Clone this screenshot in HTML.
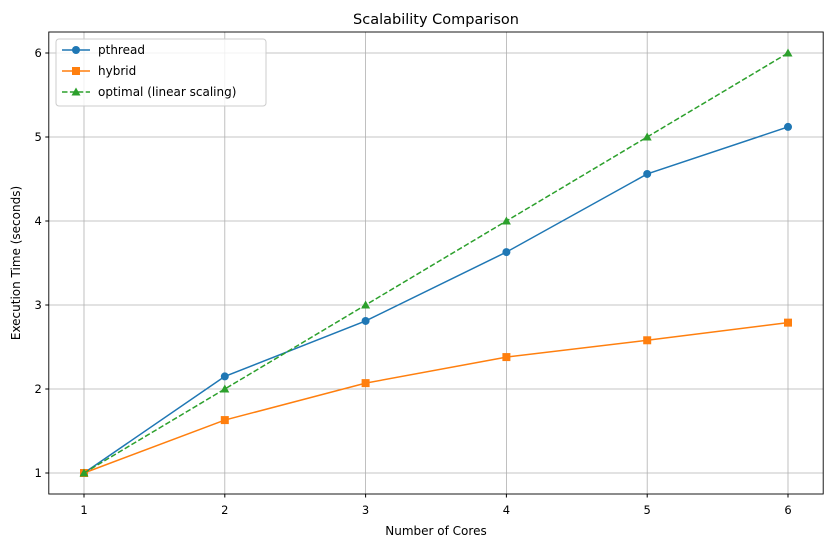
<!DOCTYPE html>
<html><head><meta charset="utf-8"><style>
body{margin:0;background:#fff;font-family:"Liberation Sans","DejaVu Sans",sans-serif}
svg text{font-family:"DejaVu Sans","Liberation Sans",sans-serif}
</style></head><body>
<svg id="chart" width="833" height="547" xmlns="http://www.w3.org/2000/svg">
<rect width="833" height="547" fill="#fff"/>
<g id="grid"></g>
<g id="series"></g>
<rect x="48.8" y="32" width="774.4" height="462" fill="none" stroke="#000" stroke-width="0.9"/>
<g id="ticks"></g>
<text x="436" y="24" text-anchor="middle" font-size="14.5">Scalability Comparison</text>
<text x="436" y="535" text-anchor="middle" font-size="12">Number of Cores</text>
<text transform="translate(20,263) rotate(-90)" text-anchor="middle" font-size="12">Execution Time (seconds)</text>
<g id="legend">
<rect x="56" y="39" width="210" height="67" fill="#fff" fill-opacity="0.8" stroke="#ccc" rx="3"/>
</g>
</svg>
<script>
const cores=[1,2,3,4,5,6];
const pthread=[1,2.15,2.81,3.63,4.56,5.12];
const hybrid=[1,1.63,2.07,2.38,2.58,2.79];
const optimal=[1,2,3,4,5,6];
const xTicks=[1,2,3,4,5,6];
const yTicks=[1,2,3,4,5,6];
const names=["pthread","hybrid","optimal (linear scaling)"];
const NS="http://www.w3.org/2000/svg";
const L=48.8,R=823.2,T=32,B=494,xmin=0.75,xmax=6.25,ymin=0.75,ymax=6.25;
const X=v=>L+(v-xmin)/(xmax-xmin)*(R-L);
const Y=v=>B-(v-ymin)/(ymax-ymin)*(B-T);
function mk(tag,attrs,parent){const e=document.createElementNS(NS,tag);for(const k in attrs)e.setAttribute(k,attrs[k]);document.getElementById(parent).appendChild(e);return e;}
xTicks.forEach(t=>{
 let g=mk('line',{x1:X(t),x2:X(t),y1:T,y2:B,stroke:'#b0b0b0','stroke-width':0.8},'grid');
 
 
 mk('line',{x1:X(t),x2:X(t),y1:B,y2:B+3.5,stroke:'#000'},'ticks');
 let tx=mk('text',{x:X(t),y:B+20,'text-anchor':'middle','font-size':11.5},'ticks');tx.textContent=t;
 
 
});
yTicks.forEach(t=>{
 let g=mk('line',{x1:L,x2:R,y1:Y(t),y2:Y(t),stroke:'#b0b0b0','stroke-width':0.8},'grid');
 
 
 mk('line',{x1:L-3.5,x2:L,y1:Y(t),y2:Y(t),stroke:'#000'},'ticks');
 let tx=mk('text',{x:L-7,y:Y(t)+4,'text-anchor':'end','font-size':11.5},'ticks');tx.textContent=t;
 
 
});
function marker(x,y,type,color,parent){
 let m;
 if(type==='o')m=mk('circle',{cx:x,cy:y,r:4,fill:color},parent);
 else if(type==='s')m=mk('rect',{x:x-4,y:y-4,width:8,height:8,fill:color},parent);
 else m=mk('polygon',{points:`${x},${y-4.5} ${x+4.5},${y+3.5} ${x-4.5},${y+3.5}`,fill:color},parent);
 return m;
}
const specs=[[pthread,'#1f77b4','o',''],[hybrid,'#ff7f0e','s',''],[optimal,'#2ca02c','^','5.5,2.4']];
specs.forEach((s,i)=>{
 const pts=cores.map((c,j)=>X(c)+','+Y(s[0][j])).join(' ');
 let pl=mk('polyline',{points:pts,fill:'none',stroke:s[1],'stroke-width':1.5,'stroke-dasharray':s[3]},'series');
 
 
 cores.forEach((c,j)=>{let m=marker(X(c),Y(s[0][j]),s[2],s[1],'series');
  
  });
 const ly=50+i*21;
 let ll=mk('line',{x1:62,x2:90,y1:ly,y2:ly,stroke:s[1],'stroke-width':1.5,'stroke-dasharray':s[3]},'legend');
 
 
 marker(76,ly,s[2],s[1],'legend');
 let lt=mk('text',{x:98,y:ly+4,'font-size':12},'legend');lt.textContent=names[i];
 
 
});
</script>
</body></html>
